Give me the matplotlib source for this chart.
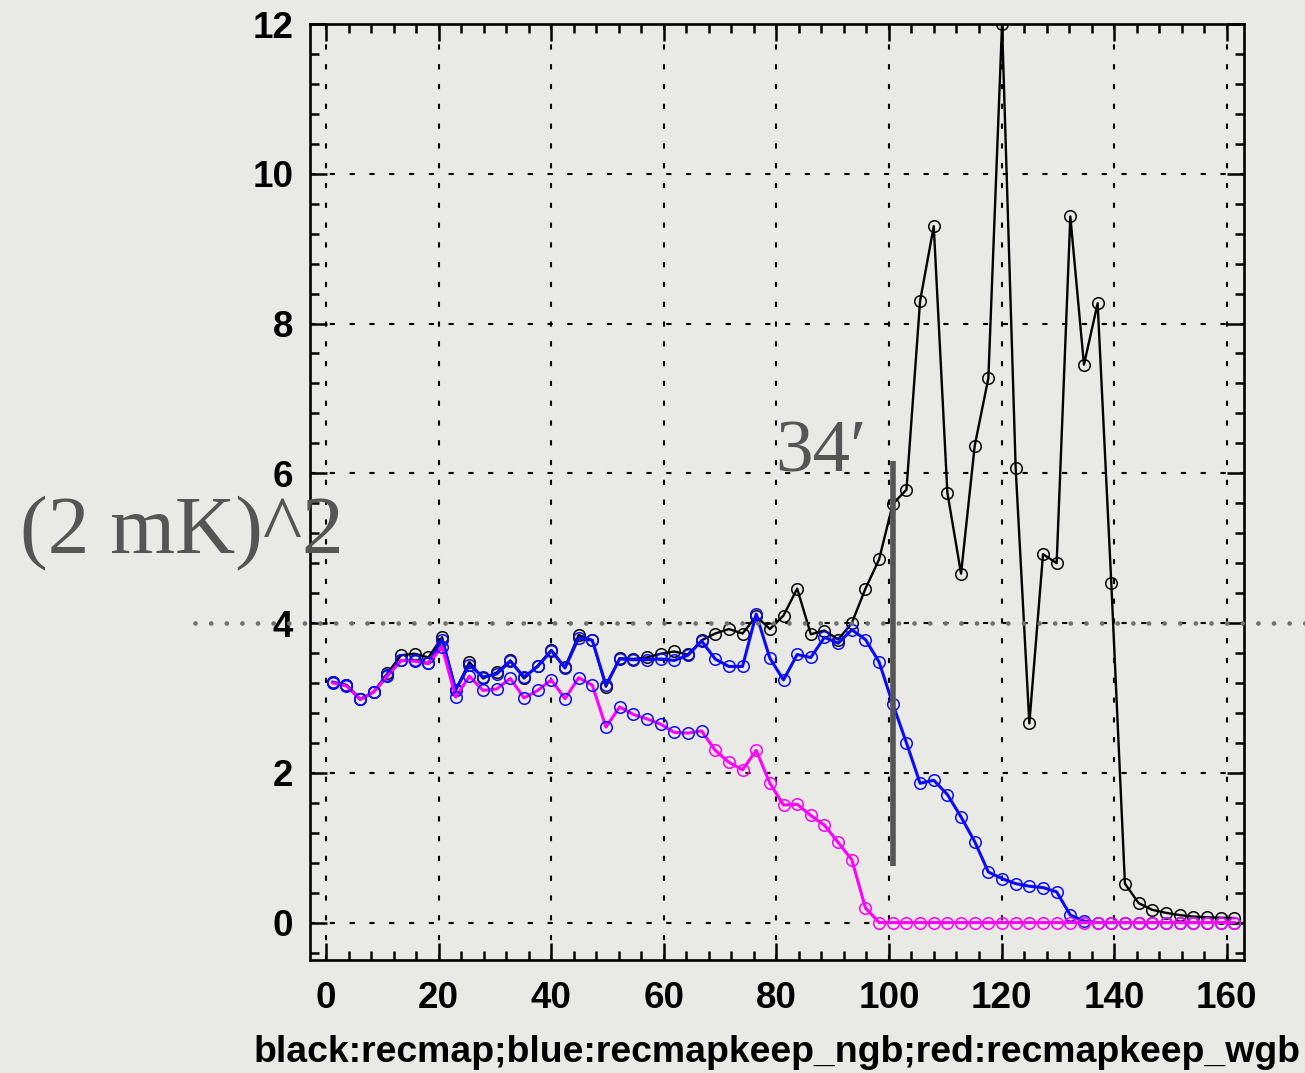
import matplotlib
matplotlib.use("Agg")
import matplotlib.pyplot as plt
from matplotlib.ticker import MultipleLocator
from matplotlib.transforms import blended_transform_factory

# Bin centres shared by the three power spectra
x_bins = [1.21, 3.64, 6.07, 8.49, 10.92, 13.34, 15.77, 18.20, 20.62, 23.05,
          25.47, 27.90, 30.33, 32.75, 35.18, 37.60, 40.03, 42.46, 44.88, 47.31,
          49.73, 52.16, 54.59, 57.01, 59.44, 61.86, 64.29, 66.72, 69.14, 71.57,
          73.99, 76.42, 78.85, 81.27, 83.70, 86.12, 88.55, 90.98, 93.40, 95.83,
          98.25, 100.68, 103.11, 105.53, 107.96, 110.38, 112.81, 115.24, 117.66, 120.09,
          122.51, 124.94, 127.37, 129.79, 132.22, 134.64, 137.07, 139.50, 141.92, 144.35,
          146.77, 149.20, 151.63, 154.05, 156.48, 158.90, 161.33]

recmap = [3.21, 3.17, 2.98, 3.08, 3.33, 3.57, 3.59, 3.54, 3.81, 3.11,
          3.48, 3.26, 3.34, 3.50, 3.26, 3.43, 3.64, 3.41, 3.84, 3.77,
          3.15, 3.53, 3.52, 3.54, 3.59, 3.62, 3.58, 3.77, 3.86, 3.92,
          3.86, 4.09, 3.92, 4.10, 4.46, 3.85, 3.90, 3.78, 4.00, 4.46,
          4.85, 5.59, 5.78, 8.30, 9.30, 5.74, 4.66, 6.37, 7.27, 12.0,
          6.07, 2.66, 4.92, 4.80, 9.43, 7.45, 8.27, 4.53, 0.52, 0.26,
          0.17, 0.13, 0.10, 0.08, 0.07, 0.065, 0.06]

recmapkeep_ngb = [3.21, 3.17, 2.98, 3.08, 3.31, 3.50, 3.50, 3.46, 3.78, 3.11,
                  3.44, 3.28, 3.32, 3.49, 3.28, 3.42, 3.63, 3.40, 3.80, 3.77,
                  3.17, 3.52, 3.51, 3.51, 3.52, 3.50, 3.57, 3.76, 3.52, 3.42,
                  3.42, 4.12, 3.53, 3.24, 3.58, 3.54, 3.81, 3.73, 3.91, 3.78,
                  3.48, 2.92, 2.40, 1.86, 1.90, 1.71, 1.41, 1.08, 0.675, 0.587,
                  0.52, 0.485, 0.467, 0.41, 0.10, 0.02, 0.0, 0.0, 0.0, 0.0,
                  0.0, 0.0, 0.0, 0.0, 0.0, 0.0, 0.0]

recmapkeep_wgb = [3.20, 3.16, 2.98, 3.08, 3.29, 3.50, 3.49, 3.46, 3.68, 3.01,
                  3.29, 3.10, 3.12, 3.26, 3.00, 3.10, 3.24, 2.99, 3.27, 3.17,
                  2.61, 2.88, 2.78, 2.72, 2.65, 2.54, 2.53, 2.56, 2.30, 2.14,
                  2.04, 2.30, 1.86, 1.57, 1.58, 1.43, 1.30, 1.07, 0.84, 0.195,
                  0.0, 0.0, 0.0, 0.0, 0.0, 0.0, 0.0, 0.0, 0.0, 0.0,
                  0.0, 0.0, 0.0, 0.0, 0.0, 0.0, 0.0, 0.0, 0.0, 0.0,
                  0.0, 0.0, 0.0, 0.0, 0.0, 0.0, 0.0]

# first points of the wgb curve carry blue circles, the rest magenta
wgb_blue_marker_count = 28

x_ticks_major, x_ticks_minor = 20, 4
y_ticks_major, y_ticks_minor = 2, 0.4

# 34 arcmin scale marker and the (2 mK)^2 reference level
scale_marker_x = 100.8
scale_marker_y = (0.75, 6.17)
reference_level = 4.0

BG = "#e9e9e6"
GRAY = "#555555"

fig = plt.figure(figsize=(13.05, 10.73), dpi=100, facecolor=BG)
ax = fig.add_axes([310 / 1305, 1 - 960 / 1073, 934 / 1305, 936 / 1073])
ax.set_facecolor("none")

mk = dict(marker="o", mfc="none", ms=8.3, mew=1.1)

ax.plot(x_bins, recmap, color="black", lw=1.7, mec="black", zorder=3, **mk)
ax.plot(x_bins, recmapkeep_ngb, color="#0a0aff", lw=2.2, mec="#0a0aff", zorder=4, **mk)
ax.plot(x_bins, recmapkeep_wgb, color="#ff00ff", lw=2.2, zorder=5)
n = wgb_blue_marker_count
ax.plot(x_bins[:n], recmapkeep_wgb[:n], ls="none", mec="#0a0aff", zorder=5, **mk)
ax.plot(x_bins[n:], recmapkeep_wgb[n:], ls="none", mec="#ff00ff", zorder=5, **mk)

ax.xaxis.set_major_locator(MultipleLocator(x_ticks_major))
ax.xaxis.set_minor_locator(MultipleLocator(x_ticks_minor))
ax.yaxis.set_major_locator(MultipleLocator(y_ticks_major))
ax.yaxis.set_minor_locator(MultipleLocator(y_ticks_minor))

ax.grid(True, which="major", color="black", linestyle=(0, (2.5, 7)), linewidth=1.5, zorder=1)
ax.set_axisbelow(True)

for s in ax.spines.values():
    s.set_linewidth(1.9)

ax.tick_params(which="both", direction="in", top=True, right=True, width=1.8)
ax.tick_params(which="major", length=12.5)
ax.tick_params(which="minor", length=6.5)
ax.tick_params(axis="x", which="major", pad=15)
ax.tick_params(axis="y", which="major", pad=12)

tick_font = dict(family=["Liberation Sans", "DejaVu Sans"], weight="bold", size=26.5)
ax.set_xlim(-2.84, 163.07)
ax.set_ylim(-0.5, 12)
xt = [v for v in ax.get_xticks() if -2.84 <= v <= 163.07]
yt = [v for v in ax.get_yticks() if -0.5 <= v <= 12]
ax.set_xticks(xt)
ax.set_yticks(yt)
ax.set_xticklabels([f"{int(v)}" for v in xt], fontdict=tick_font)
ax.set_yticklabels([f"{int(v)}" for v in yt], fontdict=tick_font)
ax.set_xlim(-2.84, 163.07)
ax.set_ylim(-0.5, 12)

ax.set_xlabel("black:recmap;blue:recmapkeep_ngb;red:recmapkeep_wgb",
              family=["Liberation Sans", "DejaVu Sans"], weight="bold", size=26.9,
              va="center")
ax.xaxis.set_label_coords(0.5, (960 - 1052) / 936)

# scale marker bar
ax.plot([scale_marker_x, scale_marker_x], scale_marker_y, color=GRAY, lw=4,
        solid_capstyle="butt", zorder=6)

# reference level dotted line spanning the page
tr = blended_transform_factory(fig.transFigure, ax.transData)
ax.plot([195 / 1305, 1.0], [reference_level, reference_level], transform=tr,
        color="#707070", lw=3.4, linestyle=(0, (0.01, 3.3)),
        dash_capstyle="round", clip_on=False, zorder=7)

serif = ["Liberation Serif", "DejaVu Serif"]
fig.text(821 / 1305, 1 - 472 / 1073, "34\u2032", family=serif, size=54,
         color=GRAY, ha="center", va="baseline")
fig.text(20 / 1305, 1 - 553 / 1073, "(2 mK)^2", family=serif, size=60,
         color=GRAY, ha="left", va="baseline")

fig.savefig("out.png", dpi=100, facecolor=BG)
